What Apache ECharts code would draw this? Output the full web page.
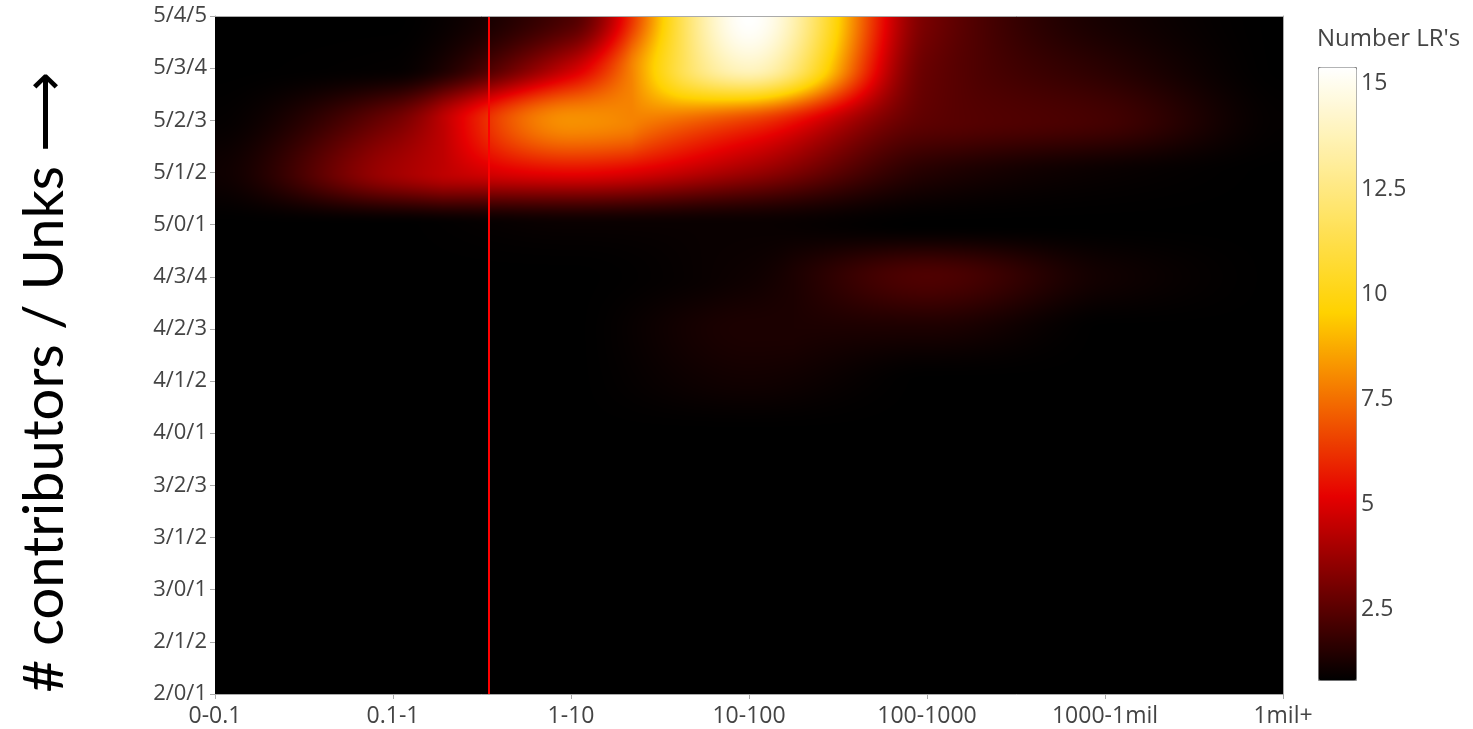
<!DOCTYPE html>
<html>
<head>
<meta charset="utf-8">
<script src="https://cdn.jsdelivr.net/npm/echarts@6/dist/echarts.min.js"></script>
<style>
html,body{margin:0;padding:0;background:#ffffff;}
#chart{width:1473px;height:729px;}
</style>
</head>
<body>
<div id="chart"></div>
<script>
// ---------------- data ----------------
const xLabels = ['0-0.1', '0.1-1', '1-10', '10-100', '100-1000', '1000-1mil', '1mil+'];
const yLabels = ['2/0/1', '2/1/2', '3/0/1', '3/1/2', '3/2/3', '4/0/1', '4/1/2',
                 '4/2/3', '4/3/4', '5/0/1', '5/1/2', '5/2/3', '5/3/4', '5/4/5'];

// one array per y category (values along xLabels)
const row_2_0_1 = [0.83, 0.83, 0.83, 0.83, 0.83, 0.83, 0.83];
const row_2_1_2 = [0.83, 0.83, 0.83, 0.83, 0.83, 0.83, 0.83];
const row_3_0_1 = [0.83, 0.83, 0.83, 0.83, 0.83, 0.83, 0.83];
const row_3_1_2 = [0.83, 0.83, 0.83, 0.83, 0.83, 0.83, 0.83];
const row_3_2_3 = [0.83, 0.83, 0.83, 0.83, 0.83, 0.83, 0.83];
const row_4_0_1 = [0.83, 0.83, 0.83, 0.83, 0.83, 0.83, 0.83];
const row_4_1_2 = [0.83, 0.83, 0.83, 1.15, 0.83, 0.83, 0.83];
const row_4_2_3 = [0.83, 0.83, 0.83, 1.35, 1.35, 0.83, 0.83];
const row_4_3_4 = [0.83, 0.83, 0.83, 1.1, 2.3, 1.15, 0.83];
const row_5_0_1 = [0.83, 0.83, 1.0, 1.0, 0.83, 0.83, 0.83];
const row_5_1_2 = [1.1, 3.9, 5.3, 3.8, 1.5, 1.0, 0.83];
const row_5_2_3 = [0.9, 3.0, 8.2, 6.5, 2.6, 2.1, 0.9];
const row_5_3_4 = [0.83, 0.9, 4.6, 14.0, 2.8, 1.6, 0.83];
const row_5_4_5 = [0.83, 0.83, 2.3, 15.4, 3.1, 1.25, 0.83];

const rows = [row_2_0_1, row_2_1_2, row_3_0_1, row_3_1_2, row_3_2_3, row_4_0_1, row_4_1_2,
              row_4_2_3, row_4_3_4, row_5_0_1, row_5_1_2, row_5_2_3, row_5_3_4, row_5_4_5];

const colorTicks = [2.5, 5, 7.5, 10, 12.5, 15];
const cMin = 0.83;
const cMax = 15.4;
const thresholdX = 1.545;   // red reference line (in x-category units)

// ---------------- styling ----------------
const hotStops = ['#000000', '#4d0000', '#990000', '#e60000', '#ee4600', '#f78c00',
                  '#ffd200', '#ffdd40', '#ffe880', '#fff4bf', '#ffffff'];
const tickFont = 'Open Sans';
const labelColor = '#444444';

const nx = xLabels.length, ny = yLabels.length;
const heatData = [];
rows.forEach((r, j) => r.forEach((v, i) => heatData.push([i, j, v])));

const stopRGB = hotStops.map(h => [parseInt(h.slice(1, 3), 16), parseInt(h.slice(3, 5), 16), parseInt(h.slice(5, 7), 16)]);
function colorOf(v) {
  let f = (v - cMin) / (cMax - cMin);
  f = Math.max(0, Math.min(1, f));
  const s = f * (stopRGB.length - 1);
  const i = Math.min(Math.floor(s), stopRGB.length - 2);
  const t = s - i, a = stopRGB[i], c = stopRGB[i + 1];
  return [a[0] + (c[0] - a[0]) * t, a[1] + (c[1] - a[1]) * t, a[2] + (c[2] - a[2]) * t];
}
// monotone cubic Hermite (Fritsch-Butland tangents) between p1 and p2
function tangent(a, b, c) {
  const d1 = b - a, d2 = c - b;
  if (d1 * d2 <= 0) return 0;
  return 2 / (1 / d1 + 1 / d2);
}
function mono(p0, p1, p2, p3, t) {
  const m1 = tangent(p0, p1, p2), m2 = tangent(p1, p2, p3);
  const t2 = t * t, t3 = t2 * t;
  return (2 * t3 - 3 * t2 + 1) * p1 + (t3 - 2 * t2 + t) * m1 + (-2 * t3 + 3 * t2) * p2 + (t3 - t2) * m2;
}
function G(i, j) {
  i = Math.max(0, Math.min(nx - 1, i));
  j = Math.max(0, Math.min(ny - 1, j));
  return rows[j][i];
}
function sample(u, v, i, j) {
  const tx = u - i, ty = v - j;
  const c = [];
  for (let m = -1; m <= 2; m++) c.push(mono(G(i - 1, j + m), G(i, j + m), G(i + 1, j + m), G(i + 2, j + m), tx));
  return mono(c[0], c[1], c[2], c[3], ty);
}

function renderCell(params, api) {
  const i = api.value(0), j = api.value(1);
  if (i >= nx - 1 || j >= ny - 1) return null;
  const pA = api.coord([i, j]);          // lower-left node
  const pB = api.coord([i + 1, j + 1]);  // upper-right node
  const x0 = Math.floor(pA[0]), x1 = Math.ceil(pB[0]);
  const y0 = Math.floor(pB[1]), y1 = Math.ceil(pA[1]);
  const w = Math.max(1, x1 - x0), h = Math.max(1, y1 - y0);
  const cv = document.createElement('canvas');
  cv.width = w; cv.height = h;
  const ctx = cv.getContext('2d');
  const img = ctx.createImageData(w, h);
  for (let py = 0; py < h; py++) {
    const Y = y0 + py + 0.5;
    let v = j + (pA[1] - Y) / (pA[1] - pB[1]);
    v = Math.max(j, Math.min(j + 1, v));
    for (let px = 0; px < w; px++) {
      const X = x0 + px + 0.5;
      let u = i + (X - pA[0]) / (pB[0] - pA[0]);
      u = Math.max(i, Math.min(i + 1, u));
      const col = colorOf(sample(u, v, i, j));
      const k = (py * w + px) * 4;
      img.data[k] = col[0]; img.data[k + 1] = col[1]; img.data[k + 2] = col[2]; img.data[k + 3] = 255;
    }
  }
  ctx.putImageData(img, 0, 0);
  return { type: 'image', style: { image: cv, x: x0, y: y0, width: w, height: h } };
}

const chart = echarts.init(document.getElementById('chart'), null, { renderer: 'canvas' });
chart.setOption({
  animation: false,
  backgroundColor: '#ffffff',
  title: {
    text: "Number LR's", left: 1317, top: 27, padding: 0,
    textStyle: { fontFamily: tickFont, fontSize: 24, fontWeight: 'normal', color: labelColor }
  },
  grid: [
    { left: 215, right: 190, top: 16, bottom: 35, containLabel: false, outerBoundsMode: 'none' },
    { left: 1318, top: 67, width: 38, height: 613, containLabel: false, outerBoundsMode: 'none' }
  ],
  xAxis: [
    {
      gridIndex: 0, type: 'value', min: 0, max: nx - 1, interval: 1,
      axisLine: { show: true, onZero: false, lineStyle: { color: '#aaaaaa', width: 1 } },
      axisTick: { show: true, length: 5, lineStyle: { color: '#aaaaaa' } },
      splitLine: { show: false },
      axisLabel: { margin: 11, fontFamily: tickFont, fontSize: 23, color: labelColor, formatter: v => xLabels[v] }
    },
    {
      gridIndex: 0, type: 'value', position: 'top', min: 0, max: nx - 1, z: 5,
      axisLine: { show: true, onZero: false, lineStyle: { color: '#aaaaaa', width: 1 } },
      axisTick: { show: false }, axisLabel: { show: false }, splitLine: { show: false }
    },
    { gridIndex: 1, type: 'value', min: 0, max: 1, show: false }
  ],
  yAxis: [
    {
      gridIndex: 0, type: 'value', min: 0, max: ny - 1, interval: 1,
      axisLine: { show: true, onZero: false, lineStyle: { color: '#aaaaaa', width: 1 } },
      axisTick: { show: true, length: 5, lineStyle: { color: '#aaaaaa' } },
      splitLine: { show: false },
      axisLabel: { margin: 8, fontFamily: tickFont, fontSize: 22, color: labelColor, formatter: v => yLabels[v] },
      name: '# contributors / Unks \u27F6',
      nameLocation: 'middle', nameRotate: 90, nameGap: 142,
      nameTextStyle: { fontFamily: 'Lato', fontSize: 56, color: '#000000', padding: [0, 54, 0, 0] }
    },
    {
      gridIndex: 0, type: 'value', position: 'right', min: 0, max: ny - 1, z: 5,
      axisLine: { show: true, onZero: false, lineStyle: { color: '#aaaaaa', width: 1 } },
      axisTick: { show: false }, axisLabel: { show: false }, splitLine: { show: false }
    },
    {
      gridIndex: 1, type: 'value', position: 'right', min: cMin, max: cMax,
      axisLine: { show: false }, axisTick: { show: false }, splitLine: { show: false },
      axisLabel: {
        customValues: colorTicks, margin: 5, fontFamily: tickFont, fontSize: 23, color: labelColor,
        formatter: v => String(v)
      }
    }
  ],
  visualMap: {
    type: 'continuous', min: cMin, max: cMax, seriesIndex: 0, dimension: 2,
    calculable: false, hoverLink: false, realtime: false,
    left: 1318, top: 67, itemWidth: 38, itemHeight: 613, padding: 0,
    borderColor: '#888888', borderWidth: 1,
    text: null, showLabel: false,
    inRange: { color: hotStops }
  },
  series: [
    {
      type: 'custom', xAxisIndex: 0, yAxisIndex: 0, silent: true,
      renderItem: renderCell,
      encode: { x: 0, y: 1 },
      data: heatData,
      clip: true,
      markLine: {
        silent: true, symbol: ['none', 'none'], label: { show: false },
        lineStyle: { color: '#ff0000', width: 2, type: 'solid' },
        data: [{ xAxis: thresholdX }]
      }
    }
  ]
});
</script>
</body>
</html>
